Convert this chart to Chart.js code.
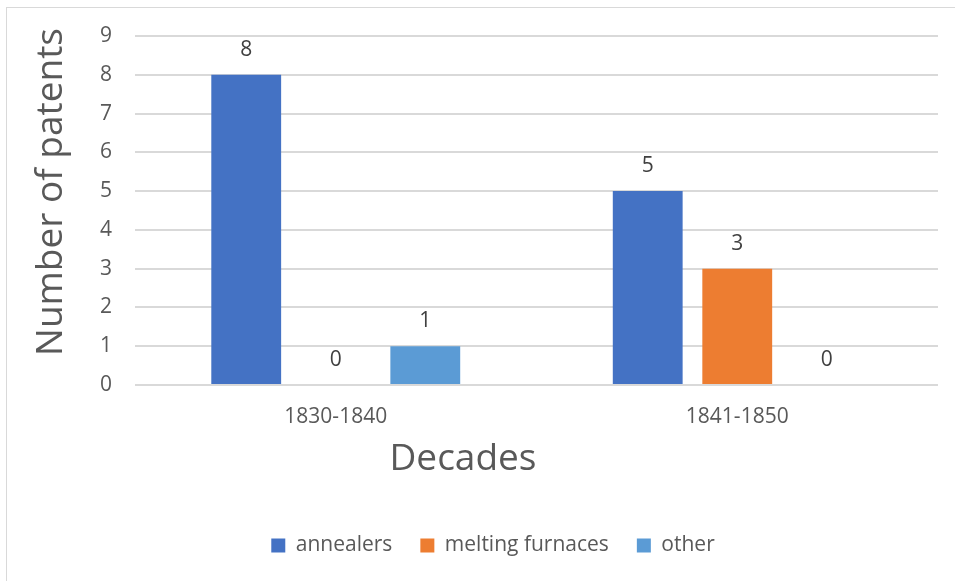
<!DOCTYPE html>
<html>
<head>
<meta charset="utf-8">
<script src="https://cdn.jsdelivr.net/npm/chart.js@4.4.1/dist/chart.umd.min.js"></script>
<style>
  html, body { margin: 0; padding: 0; background: #fff; }
  #wrap { position: relative; width: 955px; height: 581px; overflow: hidden; }
  #frame { position: absolute; left: 6px; top: 7px; width: 1000px; height: 700px;
           border: 1px solid #d9d9d9; pointer-events: none; }
  canvas { position: absolute; left: 0; top: 0; }
</style>
</head>
<body>
<div id="wrap">
  <canvas id="patentsChart" width="955" height="581"></canvas>
  <div id="frame"></div>
</div>
<script>
var decades = ['1830-1840', '1841-1850'];
var annealers = [8, 5];
var meltingFurnaces = [0, 3];
var other = [1, 0];
var yTicks = [0, 1, 2, 3, 4, 5, 6, 7, 8, 9];

var FONT = '"Open Sans", "Noto Sans", sans-serif';
var TEXT = '#595959';

// writes each bar's value just above its top
var valueLabels = {
    id: 'valueLabels',
    afterDatasetsDraw: function (chart) {
        var ctx = chart.ctx;
        ctx.save();
        ctx.font = '21px ' + FONT;
        ctx.fillStyle = '#404040';
        ctx.textAlign = 'center';
        ctx.textBaseline = 'middle';
        chart.data.datasets.forEach(function (ds, i) {
            chart.getDatasetMeta(i).data.forEach(function (bar, j) {
                ctx.fillText(String(ds.data[j]), bar.x, bar.y - 25);
            });
        });
        ctx.restore();
    }
};

// axis titles sit a little off the plot centre, so they are drawn here
var axisTitles = {
    id: 'axisTitles',
    afterDraw: function (chart) {
        var ctx = chart.ctx;
        ctx.save();
        ctx.font = '37px ' + FONT;
        ctx.fillStyle = TEXT;
        ctx.textAlign = 'center';
        ctx.textBaseline = 'alphabetic';
        ctx.fillText('Decades', 463, 470);
        ctx.translate(62, 192);
        ctx.rotate(-Math.PI / 2);
        ctx.fillText('Number of patents', 0, 0);
        ctx.restore();
    }
};

var ctx = document.getElementById('patentsChart').getContext('2d');
var patentsChart = new Chart(ctx, {
    type: 'bar',
    data: {
        labels: decades,
        datasets: [{
            label: 'annealers',
            data: annealers,
            backgroundColor: '#4472C4'
        }, {
            label: 'melting furnaces',
            data: meltingFurnaces,
            backgroundColor: '#ED7D31'
        }, {
            label: 'other',
            data: other,
            backgroundColor: '#5B9BD5'
        }]
    },
    options: {
        responsive: false,
        animation: false,
        devicePixelRatio: 1,
        datasets: {
            bar: {
                categoryPercentage: 0.669,
                barPercentage: 0.78
            }
        },
        layout: {
            padding: { top: 36, right: 17, bottom: 15, left: 48 }
        },
        plugins: {
            tooltip: { enabled: false },
            legend: {
                position: 'bottom',
                labels: {
                    boxWidth: 14,
                    boxHeight: 14,
                    padding: 28,
                    color: TEXT,
                    font: { family: FONT, size: 21 }
                }
            }
        },
        scales: {
            x: {
                grid: { display: false },
                border: { display: false },
                ticks: {
                    color: TEXT,
                    padding: 11,
                    font: { family: FONT, size: 21 }
                },
                afterFit: function (scale) { scale.height = 122; }
            },
            y: {
                min: 0,
                max: 9,
                afterBuildTicks: function (scale) {
                    scale.ticks = yTicks.map(function (v) { return { value: v }; });
                },
                grid: { color: '#d9d9d9', lineWidth: 2, drawTicks: false },
                border: { display: false },
                ticks: {
                    color: TEXT,
                    padding: 23,
                    font: { family: FONT, size: 21 }
                },
                afterFit: function (scale) { scale.width = 87; }
            }
        }
    },
    plugins: [valueLabels, axisTitles]
});
</script>
</body>
</html>
